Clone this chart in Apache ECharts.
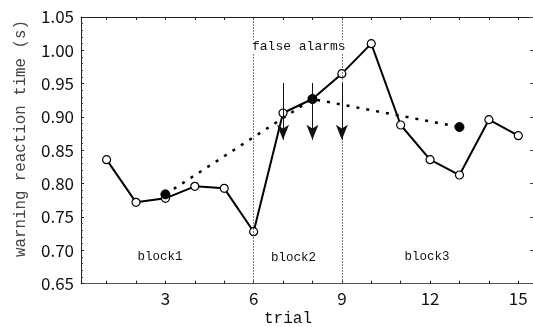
<!DOCTYPE html>
<html><head><meta charset="utf-8">
<script src="https://cdn.jsdelivr.net/npm/echarts@6/dist/echarts.min.js"></script>
<style>html,body{margin:0;padding:0;background:#fff}#c{width:533px;height:327px}</style>
</head><body><div id="c"></div>
<script>
// data
const trials = [1,2,3,4,5,6,7,8,9,10,11,12,13,14,15];
const rt = [0.836,0.772,0.778,0.796,0.793,0.728,0.906,0.927,0.965,1.010,0.888,0.836,0.813,0.896,0.872];
const blockTrials = [3,8,13];
const blockMeans = [0.784,0.927,0.885];
const alarmTrials = [7,8,9];
const arrowTop = 0.951, arrowTip = 0.866;
const dividers = [6,9];
const xTickLabels = [3,6,9,12,15];
const xTicks = [1,2,3,4,5,6,7,8,9,10,11,12,13,14,15];
const blockNames = ['block1','block2','block3'];

const chart = echarts.init(document.getElementById('c'));
const mono = '"Liberation Mono", "DejaVu Sans Mono", monospace';
const num = '"Noto Sans CJK JP", "Liberation Sans", sans-serif';
const xmin = 0.13, xmax = 15.5;

const arrowLines = alarmTrials.map((t,i)=>[
  {coord:[t,arrowTop]},
  {coord:[t,arrowTip]}
]);

chart.setOption({
  animation:false,
  grid:{left:81,right:-1,top:17,bottom:43.3,containLabel:false},
  xAxis:[{
    type:'value',min:xmin,max:xmax,position:'bottom',
    axisLine:{onZero:false,lineStyle:{color:'#555',width:1}},
    axisTick:{inside:true,length:3,customValues:xTicks,lineStyle:{color:'#222'}},
    axisLabel:{customValues:xTickLabels,fontFamily:num,fontSize:17,color:'#111',margin:6},
    splitLine:{show:false}
  },{
    type:'value',min:xmin,max:xmax,position:'top',
    axisLine:{onZero:false,lineStyle:{color:'#222',width:1}},
    axisTick:{inside:true,length:3,customValues:xTicks,lineStyle:{color:'#222'}},
    axisLabel:{show:false},splitLine:{show:false}
  }],
  yAxis:[{
    type:'value',min:0.65,max:1.05,interval:0.05,position:'left',
    axisLine:{show:true,onZero:false,lineStyle:{color:'#222',width:1}},
    axisTick:{show:true,inside:true,length:3,lineStyle:{color:'#222'}},
    minorTick:{show:true,splitNumber:5,length:2,lineStyle:{color:'#444'}},
    axisLabel:{formatter:v=>v.toFixed(2),fontFamily:num,fontSize:17,color:'#111',margin:7},
    splitLine:{show:false}
  },{
    type:'value',min:0.65,max:1.05,interval:0.05,position:'right',
    axisLine:{show:true,onZero:false,lineStyle:{color:'#222'}},
    axisTick:{show:true,inside:true,length:3,lineStyle:{color:'#444'}},
    axisLabel:{show:false},splitLine:{show:false}
  }],
  series:[
    {
      type:'line',xAxisIndex:0,yAxisIndex:0,z:3,
      data:trials.map((t,i)=>[t,rt[i]]),
      symbol:'circle',symbolSize:8,
      lineStyle:{color:'#000',width:2},
      itemStyle:{color:'#fff',borderColor:'#000',borderWidth:1.2},
      markLine:{
        silent:true,symbol:['none','none'],label:{show:false},
        lineStyle:{color:'#555',type:[1.5,1.5],width:1},
        data:dividers.map(d=>({xAxis:d}))
      }
    },
    {
      type:'line',xAxisIndex:0,yAxisIndex:0,z:4,
      data:blockTrials.map((t,i)=>[t,blockMeans[i]]),
      symbol:'circle',symbolSize:9,
      lineStyle:{color:'#000',width:2.5,type:[3,7],cap:'butt'},
      itemStyle:{color:'#000',borderColor:'#000'}
    },
    {
      type:'line',xAxisIndex:0,yAxisIndex:0,z:5,data:[],
      markLine:{
        silent:true,symbol:['none','arrow'],symbolSize:[9,15],label:{show:false},
        lineStyle:{color:'#111',width:1,type:'solid'},
        data:arrowLines
      }
    }
  ],
  graphic:[
    {type:'text',x:21,y:138.5,rotation:Math.PI/2,z:10,style:{text:'warning reaction time (s)',font:'15.8px '+mono,fill:'#444',align:'center',verticalAlign:'middle'}},
    {type:'text',x:288,y:319,z:10,style:{text:'trial',font:'16px '+mono,fill:'#111',align:'center',verticalAlign:'middle'}},
    {type:'text',left:252,top:40,z:10,style:{text:'false alarms',font:'13px '+mono,fill:'#111',backgroundColor:'#fff'}},
    {type:'text',x:160,y:257,z:10,style:{text:blockNames[0],font:'12.5px '+mono,fill:'#111',align:'center',verticalAlign:'middle'}},
    {type:'text',x:293.5,y:258,z:10,style:{text:blockNames[1],font:'12.5px '+mono,fill:'#111',align:'center',verticalAlign:'middle'}},
    {type:'text',x:427,y:257,z:10,style:{text:blockNames[2],font:'12.5px '+mono,fill:'#111',align:'center',verticalAlign:'middle'}}
  ]
});
</script></body></html>
